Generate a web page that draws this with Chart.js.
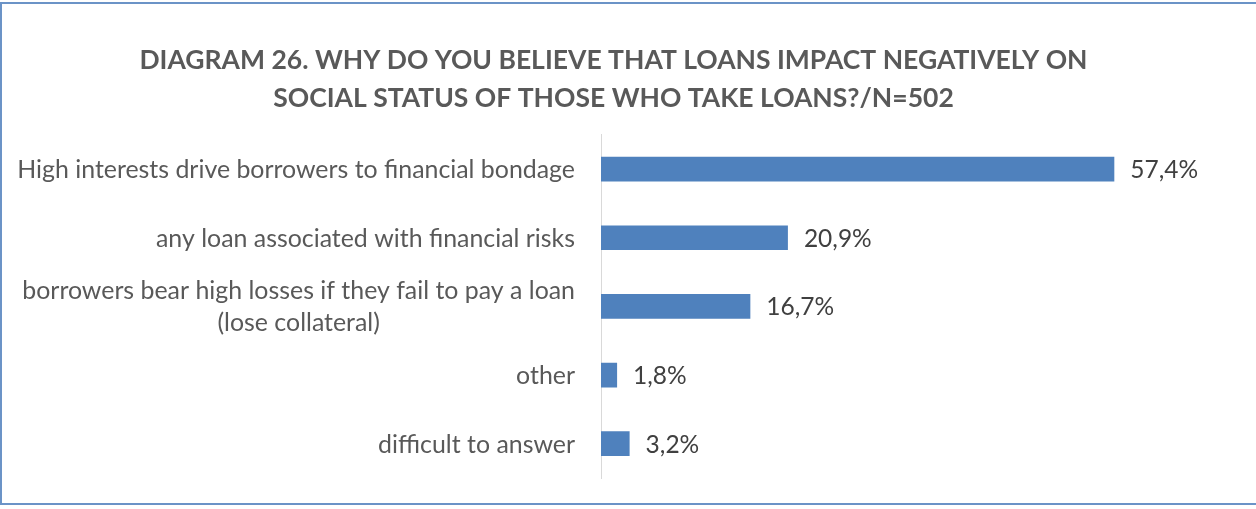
<!DOCTYPE html>
<html>
<head>
<meta charset="utf-8">
<script src="https://cdn.jsdelivr.net/npm/chart.js@4/dist/chart.umd.min.js"></script>
<style>
    html, body { margin: 0; padding: 0; background: #fff; }
    #wrap { position: relative; width: 1256px; height: 509px; }
    #frame {
        position: absolute; left: 0; top: 2px; width: 1256px; height: 503px;
        border-top: 2px solid #6b93c7; border-left: 2px solid #6b93c7; border-bottom: 2px solid #6b93c7;
        box-sizing: border-box; pointer-events: none;
    }
</style>
</head>
<body>
<div id="wrap">
    <canvas id="loans-chart" width="1256" height="509"></canvas>
    <div id="frame"></div>
</div>
<script>
const categories = [
    ['High interests drive borrowers to financial bondage'],
    ['any loan associated with financial risks'],
    ['borrowers bear high losses if they fail to pay a loan', '(lose collateral)'],
    ['other'],
    ['difficult to answer']
];
const shares = [57.4, 20.9, 16.7, 1.8, 3.2];
const titleLines = [
    'DIAGRAM 26. WHY DO YOU BELIEVE THAT LOANS IMPACT NEGATIVELY ON',
    'SOCIAL STATUS OF THOSE WHO TAKE LOANS?/N=502'
];

const categoryFont = '24.9px Lato';
const valueFont = '24.5px Lato';

// category names: right-aligned block, lines centred inside it
const categoryLabels = {
    id: 'categoryLabels',
    afterDraw(chart) {
        const ctx = chart.ctx;
        const yScale = chart.scales.y;
        const right = yScale.right - 26;
        const lineHeight = 32;
        ctx.save();
        ctx.font = categoryFont;
        ctx.fillStyle = '#595959';
        ctx.textBaseline = 'middle';
        ctx.textAlign = 'center';
        categories.forEach((lines, i) => {
            const y = yScale.getPixelForValue(i) + 1;
            const widest = Math.max(...lines.map(l => ctx.measureText(l).width));
            const cx = right - widest / 2;
            const top = y - (lines.length - 1) * lineHeight / 2;
            lines.forEach((line, k) => ctx.fillText(line, cx, top + k * lineHeight));
        });
        ctx.restore();
    }
};

// percentage after each bar
const valueLabels = {
    id: 'valueLabels',
    afterDatasetsDraw(chart) {
        const ctx = chart.ctx;
        const meta = chart.getDatasetMeta(0);
        ctx.save();
        ctx.font = valueFont;
        ctx.fillStyle = '#404040';
        ctx.textBaseline = 'middle';
        ctx.textAlign = 'left';
        meta.data.forEach((bar, i) => {
            const text = shares[i].toFixed(1).replace('.', ',') + '%';
            ctx.fillText(text, bar.x + 16, bar.y + 1);
        });
        ctx.restore();
    }
};

new Chart(document.getElementById('loans-chart'), {
    type: 'bar',
    data: {
        labels: categories.map(c => c.join(' ')),
        datasets: [{
            data: shares,
            backgroundColor: '#4f81bd',
            borderWidth: 0,
            categoryPercentage: 1,
            barPercentage: 0.36
        }]
    },
    options: {
        indexAxis: 'y',
        responsive: false,
        animation: false,
        layout: { padding: { left: 0, right: 29, top: 0, bottom: 31 } },
        plugins: {
            legend: { display: false },
            tooltip: { enabled: false },
            title: {
                display: true,
                text: titleLines,
                color: '#595959',
                font: { family: 'Lato', size: 26.5, weight: 'bold', lineHeight: 1.43 },
                padding: { top: 42, bottom: 17 }
            }
        },
        scales: {
            x: {
                display: false,
                min: 0,
                max: 70
            },
            y: {
                grid: { display: false, drawTicks: false },
                border: { display: true, color: '#d9d9d9', width: 1 },
                ticks: { display: false },
                afterFit(scale) { scale.width = 601; }
            }
        }
    },
    plugins: [categoryLabels, valueLabels]
});
</script>
</body>
</html>
